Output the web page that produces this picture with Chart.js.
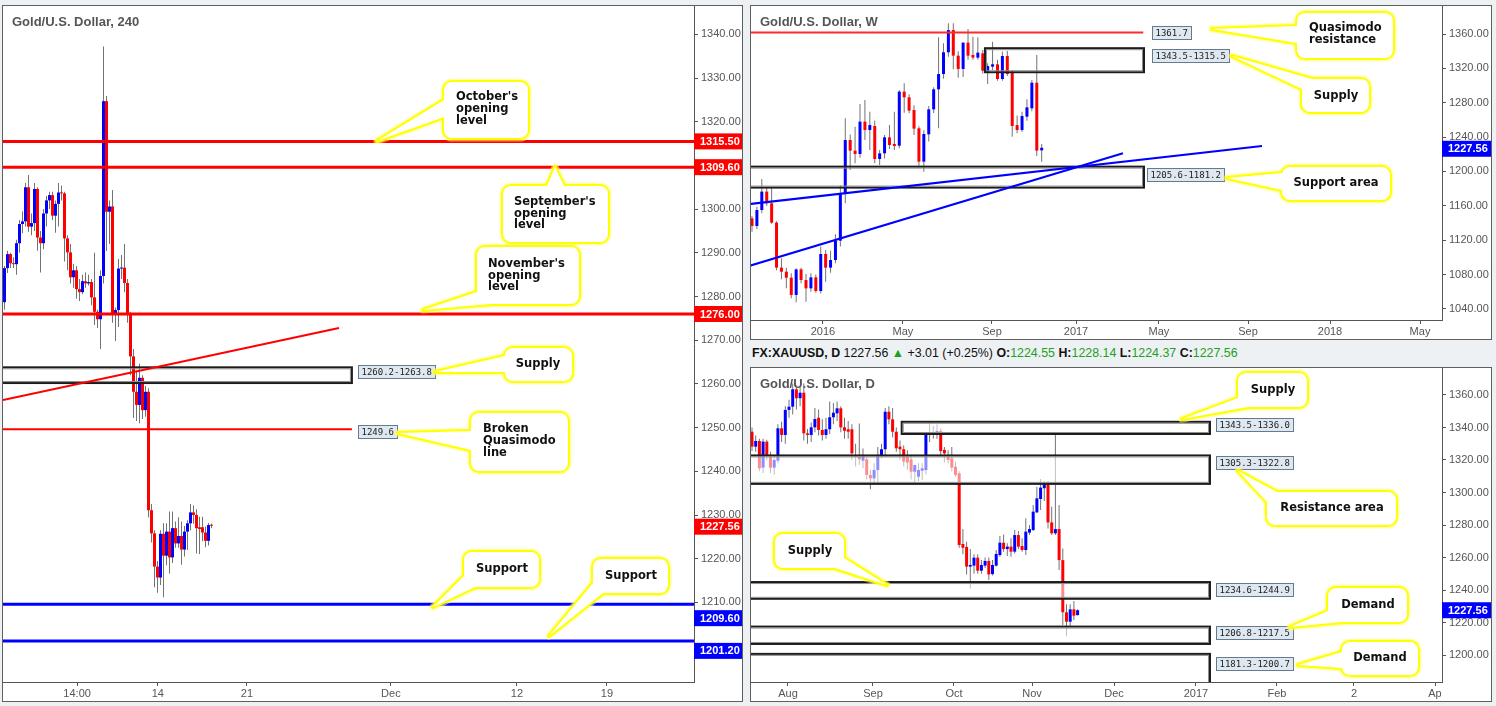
<!DOCTYPE html>
<html>
<head>
<meta charset="utf-8">
<title>Gold/U.S. Dollar</title>
<script src="https://cdn.jsdelivr.net/npm/chart.js@4.4.1/dist/chart.umd.min.js"></script>
<style>
  html, body { margin: 0; padding: 0; }
  body { width: 1496px; height: 706px; background: #eef1f4; position: relative; overflow: hidden;
         font-family: "Liberation Sans", Arial, sans-serif; }
  .frame { position: absolute; box-sizing: border-box; border: 1px solid #5f5f5f; background: #fff; }
  canvas { position: absolute; }
  #hdr { position: absolute; left: 752px; top: 344px; font-size: 12.4px; color: #111; white-space: nowrap; line-height: 18px; }
  #hdr .g { color: #22a022; }
</style>
</head>
<body>
<div class="frame" style="left:2px;top:5px;width:741px;height:697px"></div>
<div class="frame" style="left:750px;top:5px;width:742px;height:335px"></div>
<div class="frame" style="left:750px;top:367px;width:742px;height:335px"></div>
<canvas id="h4" width="739" height="695" style="left:3px;top:6px"></canvas>
<canvas id="wk" width="740" height="333" style="left:751px;top:6px"></canvas>
<canvas id="dy" width="740" height="333" style="left:751px;top:368px"></canvas>
<div id="hdr"><b>FX:XAUUSD, D</b> 1227.56 <span class="g">▲</span> +3.01 (+0.25%) <b>O:</b><span class="g">1224.55</span> <b>H:</b><span class="g">1228.14</span> <b>L:</b><span class="g">1224.37</span> <b>C:</b><span class="g">1227.56</span></div>
<script>
// ---- 240 (4 hour) candles ----
const h4Open = [1278.7,1286.5,1289.7,1287.6,1287.4,1292.2,1296.6,1297.2,1305.0,1296.0,
  1296.8,1304.6,1293.5,1292.2,1299.0,1302.0,1303.2,1298.5,1301.2,1303.8,
  1303.6,1293.3,1290.1,1284.4,1286.0,1281.7,1281.0,1283.5,1283.0,1283.3,
  1279.8,1276.5,1274.8,1284.7,1324.7,1299.4,1300.6,1275.9,1276.9,1286.4,
  1286.6,1283.1,1275.9,1266.3,1258.2,1255.2,1261.4,1254.0,1258.2,1231.1,
  1225.8,1218.2,1215.7,1225.7,1220.7,1226.2,1220.3,1227.0,1223.5,1225.2,
  1222.1,1226.2,1228.1,1230.6,1230.0,1227.2,1227.2,1226.0,1224.1,1227.7];
const h4High = [1287.0,1290.5,1290.0,1289.0,1293.0,1297.5,1299.5,1306.0,1307.8,1299.0,
  1306.0,1305.0,1295.0,1300.0,1303.0,1304.0,1304.0,1302.0,1306.0,1305.4,
  1304.0,1294.0,1292.0,1287.5,1287.0,1284.0,1285.0,1285.5,1285.0,1284.0,
  1290.0,1277.0,1286.0,1337.2,1325.9,1302.0,1304.4,1277.5,1288.6,1289.5,
  1292.0,1284.0,1276.5,1268.0,1263.0,1264.6,1262.0,1259.5,1259.0,1232.5,
  1226.5,1219.5,1226.5,1228.1,1228.1,1230.8,1230.8,1228.5,1229.5,1228.5,
  1227.5,1228.8,1232.5,1232.2,1231.3,1229.6,1229.6,1227.4,1228.2,1228.0];
const h4Low = [1277.0,1285.4,1286.5,1286.5,1285.0,1290.0,1294.5,1296.0,1294.8,1294.0,
  1295.0,1290.5,1285.5,1290.8,1296.0,1300.0,1297.5,1294.6,1296.0,1302.0,
  1288.0,1286.0,1283.0,1282.0,1279.5,1279.0,1280.5,1282.0,1282.5,1278.0,
  1273.5,1272.8,1268.0,1283.0,1290.4,1292.0,1274.0,1269.8,1273.0,1284.0,
  1281.0,1274.0,1262.0,1252.2,1251.5,1251.0,1252.0,1252.5,1229.5,1223.7,
  1213.5,1212.2,1214.0,1211.2,1218.5,1216.6,1219.0,1222.5,1222.5,1218.6,
  1220.5,1222.0,1226.5,1228.0,1221.2,1221.1,1224.0,1222.6,1223.0,1227.0];
const h4Close = [1286.5,1289.7,1287.6,1287.4,1292.2,1296.6,1297.2,1305.0,1296.0,1296.8,
  1304.6,1293.5,1292.2,1299.0,1302.0,1303.2,1298.5,1301.2,1303.8,1303.6,
  1293.3,1290.1,1284.4,1286.0,1281.7,1281.0,1283.5,1283.0,1283.3,1279.8,
  1276.5,1274.8,1284.7,1324.7,1299.4,1300.6,1275.9,1276.9,1286.4,1286.6,
  1283.1,1275.9,1266.3,1258.2,1255.2,1261.4,1254.0,1258.2,1231.1,1225.8,
  1218.2,1215.7,1225.7,1220.7,1226.2,1220.3,1227.0,1223.5,1225.2,1222.1,
  1226.2,1228.1,1230.6,1230.0,1227.0,1226.8,1226.0,1224.1,1227.7,1227.56];
const h4PriceTicks = [1210,1220,1230,1240,1250,1260,1270,1280,1290,1300,1310,1320,1330,1340];
const h4TimeTicks = [24.2, 51.1, 80.8, 128.8, 170.8, 200.8];
const h4TimeLabels = ['14:00', '14', '21', 'Dec', '12', '19'];
const h4MonthOpens = [1315.5, 1309.6, 1276.0];
const h4Supports = [1209.6, 1201.2];
const h4BrokenQM = 1249.6;
const h4SupplyZone = [1260.2, 1263.8];
const h4Trend = [[-0.5, 1256.3], [111.5, 1272.8]];
const h4Last = 1227.56;

// ---- weekly candles ----
const wkOpen = [1145.4,1136.5,1155.1,1176.5,1162.9,1140.4,1088.0,1083.3,1076.3,1056.2,
  1086.0,1073.6,1063.9,1076.7,1060.8,1103.9,1088.0,1096.9,1119.4,1173.7,
  1236.6,1224.2,1220.3,1258.0,1248.2,1252.9,1214.5,1221.1,1239.7,1232.0,
  1230.0,1292.9,1286.3,1271.5,1250.2,1211.4,1243.2,1272.3,1295.6,1313.4,
  1338.7,1364.6,1334.8,1319.3,1349.9,1335.6,1332.5,1337.5,1315.4,1322.0,
  1324.7,1307.6,1334.4,1315.0,1254.0,1248.2,1263.8,1273.5,1303.3,1224.55];
const wkHigh = [1148.0,1159.0,1191.2,1181.5,1182.3,1142.0,1098.8,1088.0,1081.4,1087.0,
  1088.0,1080.6,1081.4,1080.0,1112.5,1108.5,1107.8,1126.8,1184.0,1261.8,
  1243.0,1252.1,1278.5,1283.2,1269.6,1259.2,1225.0,1242.5,1254.0,1269.6,
  1294.8,1302.6,1290.0,1277.0,1252.5,1248.0,1276.2,1298.0,1356.1,1349.1,
  1372.4,1372.4,1340.0,1350.5,1365.8,1356.9,1356.1,1341.5,1326.0,1351.1,
  1330.0,1339.5,1340.2,1318.0,1265.0,1269.6,1283.9,1306.5,1335.6,1232.0];
const wkLow = [1129.9,1133.0,1151.2,1160.0,1139.0,1085.0,1074.4,1063.9,1052.3,1047.6,
  1069.7,1048.4,1060.0,1058.9,1058.0,1071.7,1082.2,1093.0,1112.5,1162.9,
  1201.7,1209.4,1216.0,1236.6,1225.0,1209.4,1207.5,1215.0,1226.0,1225.0,
  1227.0,1268.4,1267.6,1242.4,1206.7,1199.7,1235.0,1268.0,1250.2,1308.0,
  1333.6,1318.9,1309.2,1310.0,1330.0,1330.0,1330.0,1314.0,1301.8,1318.0,
  1305.7,1305.5,1311.0,1240.5,1244.4,1246.0,1259.0,1270.0,1218.0,1211.4];
const wkClose = [1136.5,1155.1,1176.5,1162.9,1140.4,1088.0,1083.3,1076.3,1056.2,1086.0,
  1073.6,1063.9,1076.7,1060.8,1103.9,1088.0,1096.9,1119.4,1173.7,1236.6,
  1224.2,1220.3,1258.0,1248.2,1254.0,1214.5,1221.1,1239.7,1230.8,1229.6,
  1292.9,1286.3,1270.8,1249.8,1211.4,1243.6,1272.3,1295.6,1313.4,1338.7,
  1364.6,1334.8,1319.3,1349.9,1334.8,1332.5,1338.3,1317.3,1322.7,1324.7,
  1307.6,1334.4,1313.4,1252.9,1248.2,1264.5,1274.6,1303.3,1224.2,1227.56];
const wkPriceTicks = [1040,1080,1120,1160,1200,1240,1280,1320,1360];
const wkTimeTicks = [14.46, 30.75, 48.88, 65.99, 82.89, 101.02, 117.72, 136.05];
const wkTimeLabels = ['2016', 'May', 'Sep', '2017', 'May', 'Sep', '2018', 'May'];
const wkQmResistance = 1361.7;
const wkSupplyZone = [1343.5, 1315.5];
const wkSupportZone = [1205.6, 1181.2];
const wkTrendA = [[-0.41, 1090.3], [75.56, 1221.1]];
const wkTrendB = [[-0.41, 1162.1], [103.87, 1229.6]];
const wkLast = 1227.56;

// ---- daily candles ----
const dOpen = [1337.4,1328.2,1331.7,1315.3,1331.3,1322.0,1315.3,1319.6,1339.5,1335.4,
  1350.8,1352.8,1363.5,1358.0,1361.4,1336.4,1335.4,1340.1,1346.0,1338.5,
  1335.4,1338.9,1346.3,1348.7,1351.8,1340.1,1338.9,1338.9,1323.1,1322.0,
  1319.6,1320.4,1310.8,1308.7,1313.8,1323.1,1326.6,1349.7,1345.0,1337.4,
  1328.2,1326.6,1322.0,1320.4,1312.8,1309.7,1313.4,1313.8,1335.8,1337.0,
  1337.0,1337.8,1326.2,1322.0,1321.0,1315.9,1311.8,1268.3,1266.5,1254.4,
  1255.0,1259.9,1251.9,1255.0,1257.9,1249.8,1255.0,1261.5,1269.1,1265.2,
  1266.7,1263.6,1273.8,1267.1,1264.6,1275.3,1276.9,1287.8,1296.0,1302.6,
  1305.0,1281.6,1274.9,1277.5,1258.4,1226.3,1220.5,1228.1,1224.55];
const dHigh = [1340.0,1335.0,1333.0,1333.0,1332.5,1325.0,1323.0,1342.0,1343.5,1353.0,
  1357.0,1367.0,1366.0,1365.5,1367.0,1339.0,1343.0,1352.0,1351.0,1345.0,
  1346.0,1356.0,1355.0,1356.0,1353.0,1346.0,1344.0,1342.0,1330.0,1342.5,
  1327.0,1322.0,1314.0,1318.0,1328.0,1330.0,1352.0,1353.0,1352.0,1340.0,
  1332.0,1329.0,1326.0,1323.0,1317.0,1318.0,1318.0,1337.0,1343.6,1341.0,
  1342.0,1339.5,1328.0,1326.0,1328.0,1319.0,1313.0,1277.5,1269.7,1265.2,
  1262.0,1262.0,1258.5,1260.0,1260.0,1258.5,1264.6,1273.2,1274.2,1268.7,
  1271.8,1276.9,1276.3,1271.8,1284.1,1280.0,1292.3,1303.6,1308.3,1307.1,
  1307.1,1291.3,1335.8,1292.3,1265.6,1231.2,1231.2,1233.2,1228.14];
const dLow = [1325.5,1325.0,1313.0,1312.0,1320.0,1312.0,1311.0,1318.0,1331.0,1330.0,
  1346.0,1348.0,1351.0,1353.0,1332.0,1330.0,1331.0,1337.0,1335.0,1332.0,
  1333.0,1336.0,1342.0,1344.0,1337.0,1333.0,1333.0,1320.0,1316.0,1317.0,
  1315.0,1308.0,1302.0,1306.0,1306.0,1321.0,1322.0,1342.0,1334.0,1325.0,
  1320.0,1316.0,1314.0,1308.0,1306.0,1307.0,1307.7,1311.0,1331.0,1333.0,
  1333.0,1322.0,1318.5,1318.0,1313.0,1309.7,1266.0,1262.0,1249.6,1241.0,
  1250.0,1250.0,1250.0,1253.5,1246.2,1249.0,1254.5,1260.5,1263.6,1260.9,
  1260.5,1262.5,1265.2,1263.6,1261.5,1273.8,1276.3,1287.2,1289.2,1294.8,
  1277.9,1273.8,1273.8,1252.3,1218.5,1211.5,1218.0,1221.5,1224.37];
const dClose = [1328.2,1331.7,1314.9,1331.3,1323.1,1315.3,1320.0,1339.5,1335.4,1350.8,
  1352.8,1363.5,1358.0,1361.4,1336.4,1335.4,1340.1,1345.2,1338.5,1335.4,
  1338.9,1346.3,1349.1,1351.8,1340.1,1338.0,1337.4,1324.1,1322.0,1320.4,
  1323.1,1310.8,1308.7,1313.8,1323.1,1326.6,1349.7,1345.0,1337.4,1327.2,
  1326.6,1319.0,1318.4,1312.8,1316.9,1313.8,1314.9,1335.8,1337.0,1336.5,
  1337.8,1325.5,1324.1,1320.0,1315.3,1310.8,1267.7,1266.0,1254.4,1255.4,
  1259.9,1251.9,1255.4,1257.9,1249.6,1255.4,1262.2,1269.1,1265.2,1266.7,
  1263.6,1273.8,1266.7,1264.6,1275.9,1277.5,1288.2,1296.4,1303.0,1305.0,
  1281.6,1274.9,1277.5,1258.4,1226.3,1220.5,1228.1,1224.2,1227.56];
const dPriceTicks = [1200,1220,1240,1260,1280,1300,1320,1340,1360];
const dTimeTicks = [9.73, 32.7, 54.59, 75.68, 97.84, 120, 141.89, 162.7, 184.6];
const dTimeLabels = ['Aug', 'Sep', 'Oct', 'Nov', 'Dec', '2017', 'Feb', '2', 'Ap'];
const dSupplyHigh = [1343.5, 1336.0];
const dResistanceArea = [1305.3, 1322.8];
const dSupplyLow = [1234.6, 1244.9];
const dDemandHigh = [1206.8, 1217.5];
const dDemandLow = [1181.3, 1200.7];
const dLast = 1227.56;

// ---- drawing ----
const BLUE = '#0000ff', RED = '#ff0000', WICK = '#737373', AXIS = '#555';
const FONT_UI = '"Liberation Sans", Arial, sans-serif';
const zoneText = z => z[0].toFixed(1) + '-' + z[1].toFixed(1);
const mid = z => (z[0] + z[1]) / 2;

function candleDatasets(o, h, l, c, bodyWidth) {
  const idx = o.map((_, i) => i);
  return [
    { data: idx.map(i => ({ x: i, y: [l[i], h[i]] })), backgroundColor: WICK,
      barThickness: 1, grouped: false, order: 2, inflateAmount: 0 },
    { data: idx.map(i => ({ x: i, y: [Math.min(o[i], c[i]), Math.max(o[i], c[i])] })),
      backgroundColor: idx.map(i => c[i] >= o[i] ? BLUE : RED),
      barThickness: bodyWidth, minBarLength: 1, grouped: false, order: 1, inflateAmount: 0 }
  ];
}

function axes(p) {
  const font = { family: FONT_UI, size: 11 };
  return {
    x: { type: 'linear', min: p.xMin, max: p.xMax, offset: false,
      grid: { drawOnChartArea: false, tickLength: 4, color: AXIS, offset: false },
      border: { color: AXIS },
      ticks: { color: '#555', font, padding: 1, maxRotation: 0, autoSkip: false,
               callback: (v, i) => p.xLabels[i] },
      afterBuildTicks: s => { s.ticks = p.xTicks.map(v => ({ value: v })); },
      afterFit: s => { s.height = p.xAxisH; s.paddingLeft = 0; s.paddingRight = 0; } },
    y: { type: 'linear', position: 'right', min: p.yMin, max: p.yMax,
      grid: { drawOnChartArea: false, tickLength: 4, color: AXIS },
      border: { color: AXIS },
      ticks: { color: '#555', font, padding: 3, callback: v => v.toFixed(2) },
      afterBuildTicks: s => { s.ticks = p.yTicks.map(v => ({ value: v })); },
      afterFit: s => { s.width = p.yAxisW; s.paddingTop = 0; s.paddingBottom = 0; } }
  };
}

function roundRectPath(ctx, x, y, w, h, r) {
  ctx.beginPath();
  ctx.moveTo(x + r, y);
  ctx.arcTo(x + w, y, x + w, y + h, r);
  ctx.arcTo(x + w, y + h, x, y + h, r);
  ctx.arcTo(x, y + h, x, y, r);
  ctx.arcTo(x, y, x + w, y, r);
  ctx.closePath();
}

function drawCallout(ctx, c, ox, oy) {
  const x = c.box[0] - ox, y = c.box[1] - oy, w = c.box[2], h = c.box[3];
  const tri = [c.tip, c.base[0], c.base[1]].map(p => [p[0] - ox, p[1] - oy]);
  const triPath = () => {
    ctx.beginPath(); ctx.moveTo(tri[0][0], tri[0][1]);
    ctx.lineTo(tri[1][0], tri[1][1]); ctx.lineTo(tri[2][0], tri[2][1]); ctx.closePath();
  };
  ctx.save();
  ctx.lineJoin = 'round';
  [[7, 'rgba(255,255,110,0.55)'], [4, '#ffff00']].forEach(([lw, col]) => {
    ctx.lineWidth = lw; ctx.strokeStyle = col;
    roundRectPath(ctx, x, y, w, h, 8); ctx.stroke();
    triPath(); ctx.stroke();
  });
  ctx.fillStyle = '#fff';
  roundRectPath(ctx, x, y, w, h, 8); ctx.fill();
  triPath(); ctx.fill();
  ctx.fillStyle = '#111';
  ctx.font = 'bold 11.5px "DejaVu Sans", Verdana, sans-serif';
  ctx.textBaseline = 'middle';
  ctx.textAlign = c.center ? 'center' : 'left';
  c.lines.forEach((t, i) => ctx.fillText(t, c.tx - ox, c.ty - oy + i * 11.7));
  ctx.restore();
}

function decorPlugin(d) {
  const ox = d.off[0], oy = d.off[1];
  return {
    id: 'decor',
    beforeDatasetsDraw(chart) {
      const ctx = chart.ctx;
      ctx.save();
      ctx.font = 'bold 13px ' + FONT_UI;
      ctx.fillStyle = '#555';
      ctx.textBaseline = 'middle';
      ctx.textAlign = 'left';
      ctx.fillText(d.title.text, d.title.x - ox, d.title.y - oy);
      ctx.restore();
    },
    afterDatasetsDraw(chart) {
      const { ctx, chartArea: a, scales: { x, y } } = chart;
      ctx.save();
      ctx.beginPath(); ctx.rect(a.left, a.top, a.right - a.left, a.bottom - a.top); ctx.clip();
      d.zones.forEach(z => {
        const x0 = x.getPixelForValue(z.from), x1 = x.getPixelForValue(z.to);
        const y0 = y.getPixelForValue(Math.max(...z.span)), y1 = y.getPixelForValue(Math.min(...z.span));
        if (z.fill) { ctx.fillStyle = z.fill; ctx.fillRect(x0, y0, x1 - x0, y1 - y0); }
        ctx.lineWidth = 2; ctx.strokeStyle = '#1c1c1c'; ctx.strokeRect(x0, y0, x1 - x0, y1 - y0);
        ctx.lineWidth = 1; ctx.strokeStyle = '#8c8c8c'; ctx.strokeRect(x0 + 1.5, y0 + 1.5, x1 - x0 - 3, y1 - y0 - 3);
      });
      d.hlines.forEach(l => {
        const py = y.getPixelForValue(l.v);
        ctx.strokeStyle = l.color; ctx.lineWidth = l.width;
        ctx.beginPath(); ctx.moveTo(a.left, py);
        ctx.lineTo(l.to == null ? a.right : x.getPixelForValue(l.to), py); ctx.stroke();
      });
      d.segs.forEach(s => {
        ctx.strokeStyle = s.color; ctx.lineWidth = s.width;
        ctx.beginPath();
        ctx.moveTo(x.getPixelForValue(s.pts[0][0]), y.getPixelForValue(s.pts[0][1]));
        ctx.lineTo(x.getPixelForValue(s.pts[1][0]), y.getPixelForValue(s.pts[1][1]));
        ctx.stroke();
      });
      ctx.restore();
    },
    afterDraw(chart) {
      const { ctx, chartArea: a, scales: { x, y } } = chart;
      const W = chart.width;
      ctx.save();
      ctx.textBaseline = 'middle'; ctx.textAlign = 'left';
      ctx.font = '9px "DejaVu Sans Mono", monospace';
      d.valueTags.forEach(t => {
        const px = Math.round(x.getPixelForValue(t.xIdx) + t.gap);
        const py = Math.round(y.getPixelForValue(t.v) + t.dy);
        const w = Math.ceil(ctx.measureText(t.text).width + 6);
        ctx.fillStyle = '#dfe8f0'; ctx.fillRect(px, py - 6, w, 13);
        ctx.strokeStyle = '#647a8f'; ctx.lineWidth = 1; ctx.strokeRect(px + 0.5, py - 6.5, w, 13);
        ctx.fillStyle = '#222'; ctx.fillText(t.text, px + 3.5, py + 0.5);
      });
      ctx.font = 'bold 11px ' + FONT_UI;
      d.priceTags.forEach(t => {
        const py = y.getPixelForValue(t.v) + (t.dy || 0);
        ctx.fillStyle = t.bg; ctx.fillRect(a.right, py - 8, W - a.right, 16);
        ctx.fillStyle = '#fff'; ctx.fillText(t.v.toFixed(2), a.right + 6, py + 0.5);
      });
      d.callouts.forEach(c => drawCallout(ctx, c, ox, oy));
      ctx.restore();
    }
  };
}

function makeChart(id, p, decor) {
  return new Chart(document.getElementById(id), {
    type: 'bar',
    data: { datasets: candleDatasets(p.o, p.h, p.l, p.c, p.bodyW) },
    options: {
      responsive: false, animation: false, devicePixelRatio: 1,
      layout: { padding: 0 },
      plugins: { legend: { display: false }, tooltip: { enabled: false } },
      scales: axes(p)
    },
    plugins: [decorPlugin(decor)]
  });
}

// 4 hour chart
makeChart('h4', {
  o: h4Open, h: h4High, l: h4Low, c: h4Close, bodyW: 3,
  xMin: -0.5, xMax: 229.83, xTicks: h4TimeTicks, xLabels: h4TimeLabels,
  yMin: 1191.79, yMax: 1346.48, yTicks: h4PriceTicks, yAxisW: 48, xAxisH: 19
}, {
  off: [3, 6],
  title: { text: 'Gold/U.S. Dollar, 240', x: 12, y: 22 },
  zones: [{ span: h4SupplyZone, from: -3, to: 115.8 }],
  hlines: [
    ...h4MonthOpens.map(v => ({ v, color: RED, width: 3 })),
    { v: h4BrokenQM, color: RED, width: 2, to: 115.8 },
    ...h4Supports.map(v => ({ v, color: BLUE, width: 3 }))
  ],
  segs: [{ pts: h4Trend, color: RED, width: 2 }],
  valueTags: [
    { text: zoneText(h4SupplyZone), xIdx: 115.8, v: mid(h4SupplyZone), dy: -3, gap: 6 },
    { text: h4BrokenQM.toFixed(1), xIdx: 115.8, v: h4BrokenQM, dy: 3, gap: 6 }
  ],
  priceTags: [
    ...h4MonthOpens.map(v => ({ v, bg: RED })),
    { v: h4Last, bg: RED, dy: 1 },
    { v: h4Supports[0], bg: BLUE, dy: 14 },
    { v: h4Supports[1], bg: BLUE, dy: 10 }
  ],
  callouts: [
    { box: [444, 82, 84, 56], tip: [377, 141], base: [[444, 100], [444, 117]], lines: ["October's", 'opening', 'level'], tx: 456, ty: 97.5 },
    { box: [503, 186, 105, 56], tip: [555, 167], base: [[547, 186], [564, 186]], lines: ["September's", 'opening', 'level'], tx: 514, ty: 202 },
    { box: [477, 247, 102, 57], tip: [423, 310], base: [[477, 292], [490, 304]], lines: ["November's", 'opening', 'level'], tx: 488, ty: 264 },
    { box: [505, 348, 67, 33], tip: [435, 372], base: [[505, 356], [505, 372]], lines: ['Supply'], tx: 538, ty: 364, center: true },
    { box: [471, 413, 97, 58], tip: [398, 433], base: [[471, 431], [471, 450]], lines: ['Broken', 'Quasimodo', 'line'], tx: 483, ty: 429.5 },
    { box: [464, 552, 75, 35], tip: [433, 607], base: [[464, 576], [475, 587]], lines: ['Support'], tx: 502, ty: 569, center: true },
    { box: [593, 559, 75, 34], tip: [549, 636], base: [[593, 583], [603, 593]], lines: ['Support'], tx: 631, ty: 576.5, center: true }
  ]
});

// weekly chart
makeChart('wk', {
  o: wkOpen, h: wkHigh, l: wkLow, c: wkClose, bodyW: 3,
  xMin: -0.2, xMax: 140.53, xTicks: wkTimeTicks, xLabels: wkTimeLabels,
  yMin: 1027.05, yMax: 1392.6, yTicks: wkPriceTicks, yAxisW: 49, xAxisH: 19
}, {
  off: [751, 6],
  title: { text: 'Gold/U.S. Dollar, W', x: 760, y: 22.5 },
  zones: [
    { span: wkSupplyZone, from: 47.45, to: 79.84 },
    { span: wkSupportZone, from: -3, to: 79.84 }
  ],
  hlines: [{ v: wkQmResistance, color: '#ff2a2a', width: 2, to: 79.69 }],
  segs: [
    { pts: wkTrendA, color: BLUE, width: 2 },
    { pts: wkTrendB, color: BLUE, width: 2 }
  ],
  valueTags: [
    { text: wkQmResistance.toFixed(1), xIdx: 79.69, v: wkQmResistance, dy: 0, gap: 9 },
    { text: zoneText(wkSupplyZone), xIdx: 79.84, v: mid(wkSupplyZone), dy: -4, gap: 8 },
    { text: zoneText(wkSupportZone), xIdx: 79.84, v: mid(wkSupportZone), dy: -2, gap: 3 }
  ],
  priceTags: [{ v: wkLast, bg: BLUE, dy: 1 }],
  callouts: [
    { box: [1297, 13, 96, 45], tip: [1212, 29], base: [[1297, 26], [1297, 43]], lines: ['Quasimodo', 'resistance'], tx: 1309, ty: 28.5 },
    { box: [1302, 79, 67, 33], tip: [1232, 56], base: [[1312, 79], [1302, 89]], lines: ['Supply'], tx: 1336, ty: 96, center: true },
    { box: [1282, 167, 108, 33], tip: [1227, 178], base: [[1282, 173], [1282, 190]], lines: ['Support area'], tx: 1336, ty: 183.5, center: true }
  ]
});

// daily chart
const paleFill = 'rgba(255,255,255,0.55)';
makeChart('dy', {
  o: dOpen, h: dHigh, l: dLow, c: dClose, bodyW: 3,
  xMin: -0.27, xMax: 186.49, xTicks: dTimeTicks, xLabels: dTimeLabels,
  yMin: 1183.4, yMax: 1376.6, yTicks: dPriceTicks, yAxisW: 49, xAxisH: 19
}, {
  off: [751, 368],
  title: { text: 'Gold/U.S. Dollar, D', x: 760, y: 384 },
  zones: [
    { span: dSupplyHigh, from: 40.46, to: 123.78, fill: paleFill },
    { span: dResistanceArea, from: -3, to: 123.78, fill: paleFill },
    { span: dSupplyLow, from: -3, to: 123.78, fill: paleFill },
    { span: dDemandHigh, from: -3, to: 123.78, fill: paleFill },
    { span: dDemandLow, from: -3, to: 123.78, fill: paleFill }
  ],
  hlines: [],
  segs: [],
  valueTags: [
    { text: zoneText(dSupplyHigh), xIdx: 123.78, v: mid(dSupplyHigh), dy: -3, gap: 6 },
    { text: zoneText(dResistanceArea), xIdx: 123.78, v: mid(dResistanceArea), dy: -7, gap: 6 },
    { text: zoneText(dSupplyLow), xIdx: 123.78, v: mid(dSupplyLow), dy: 0, gap: 6 },
    { text: zoneText(dDemandHigh), xIdx: 123.78, v: mid(dDemandHigh), dy: -2, gap: 6 },
    { text: zoneText(dDemandLow), xIdx: 123.78, v: mid(dDemandLow), dy: -6, gap: 6 }
  ],
  priceTags: [{ v: dLast, bg: BLUE, dy: 0 }],
  callouts: [
    { box: [1238, 373, 69, 34], tip: [1182, 419], base: [[1238, 398], [1248, 407]], lines: ['Supply'], tx: 1273, ty: 390, center: true },
    { box: [1267, 492, 129, 33], tip: [1238, 471], base: [[1277, 492], [1267, 502]], lines: ['Resistance area'], tx: 1332, ty: 508.5, center: true },
    { box: [775, 534, 69, 34], tip: [887, 585], base: [[844, 558], [835, 568]], lines: ['Supply'], tx: 810, ty: 551, center: true },
    { box: [1328, 588, 79, 34], tip: [1290, 627], base: [[1328, 611], [1342, 622]], lines: ['Demand'], tx: 1368, ty: 605, center: true },
    { box: [1342, 642, 76, 33], tip: [1298, 665], base: [[1342, 652], [1342, 668]], lines: ['Demand'], tx: 1380, ty: 658.5, center: true }
  ]
});
</script>
</body>
</html>
